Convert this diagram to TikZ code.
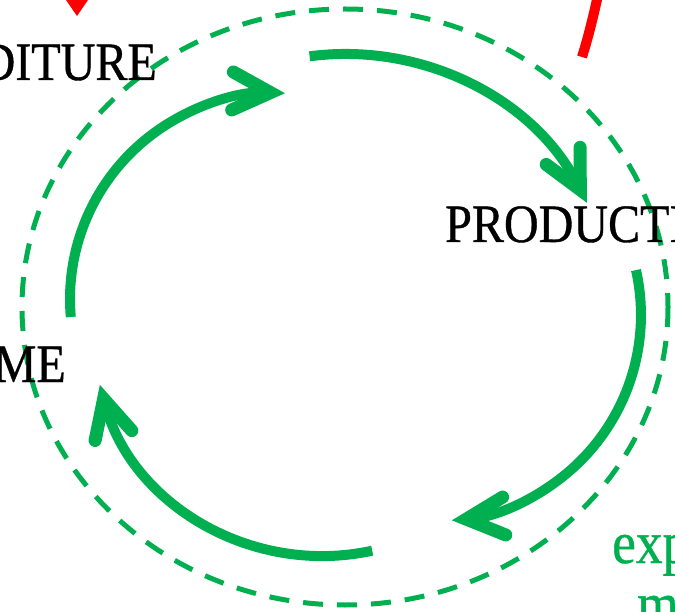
\documentclass[tikz,border=0pt]{standalone}
\usepackage{fontspec}
\setmainfont{Liberation Serif}[FakeBold=0.7]
\usetikzlibrary{arrows.meta}
\definecolor{cgreen}{RGB}{0,176,80}
\begin{document}
\begin{tikzpicture}[x=1pt,y=-1pt,
  cyc/.style={draw=cgreen, line width=10pt, line cap=butt,
    -{Straight Barb[length=38pt,width=38pt,line width=0pt 1.3,line cap=round,line join=miter]}},
  lbl/.style={inner sep=0pt, font=\fontsize{54}{60}\selectfont},
  glbl/.style={inner sep=0pt, text=cgreen, font=\fontsize{60}{66}\selectfont},
  redline/.style={draw=red, line width=10pt}]
\useasboundingbox (0,0) rectangle (675,612);
\clip (0,0) rectangle (675,612);
% dashed outer ellipse
\draw[cgreen, line width=5pt, dash pattern=on 20pt off 14pt] (345,307) ellipse [x radius=323, y radius=298];
% labels
\node[lbl, anchor=base east] (exp) at (157,80) {\scalebox{0.89}[1]{EXPENDITURE}};
\node[lbl, anchor=base west] (prod) at (445,242) {\scalebox{0.89}[1]{PRODUCTION}};
\node[lbl, anchor=base east] (inc) at (66,382) {\scalebox{0.89}[1]{INCOME}};
\node[glbl, anchor=base west] (g1) at (612,563) {\scalebox{0.89}[1]{exp}};
\node[glbl, anchor=base west] (g2) at (637,624) {\scalebox{0.89}[1]{m}};
% cycle arcs
\coordinate (t0) at (309.6,56.3);
\coordinate (r0) at (636.0,270.1);
\coordinate (b0) at (372.2,550.7);
\coordinate (l0) at (70.8,317.0);
\draw[cyc] (t0) arc[start angle=-97.5, end angle=-26.8, radius=271];
\draw[cyc] (r0) arc[start angle=-12.6, end angle=85.3, radius=206];
\draw[cyc] (b0) arc[start angle=77.7, end angle=165, radius=231];
\draw[cyc] (l0) arc[start angle=-185, end angle=-87.5, radius=206];
% red arrows
\coordinate (ra) at (77,-40);
\coordinate (rb) at (77,16);
\draw[redline, -{Triangle[length=24pt,width=33pt,line width=0pt]}] (ra) -- (rb);
\coordinate (rc) at (582,57);
\coordinate (rd) at (598,-5);
\draw[redline] (rc) .. controls (588,38) and (593,18) .. (rd);
\end{tikzpicture}
\end{document}
